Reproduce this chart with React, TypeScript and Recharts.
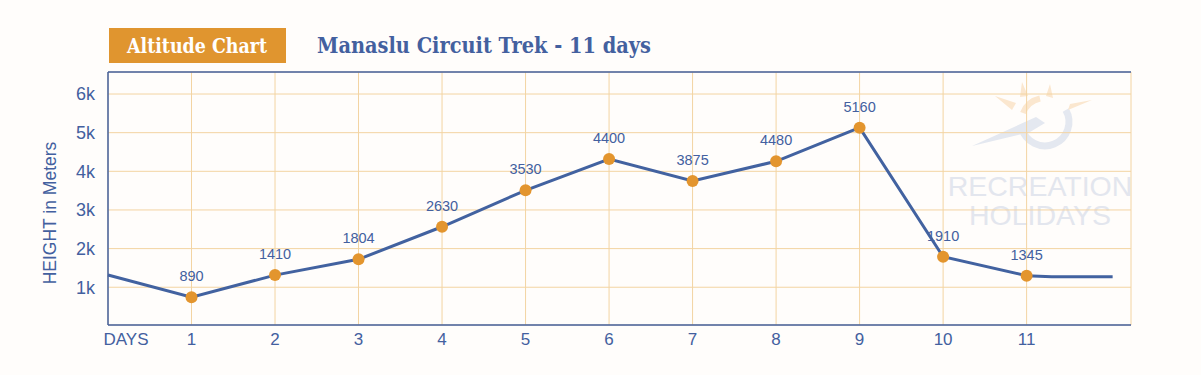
import {CartesianGrid, LabelList, Line, LineChart, ReferenceLine, XAxis, YAxis} from "recharts";

const W = 1201;
const H = 375;

// trek days and what the graphic shows for each
const days = [1, 2, 3, 4, 5, 6, 7, 8, 9, 10, 11];
const altitudeLabels = ["890", "1410", "1804", "2630", "3530", "4400", "3875", "4480", "5160", "1910", "1345"];
// heights as they sit on the picture's scale (metres)
const plottedHeights = [740, 1314, 1723, 2565, 3508, 4318, 3749, 4259, 5128, 1790, 1299];
// lead-in and tail of the line (no marker)
const leadIn = {day: 0, height: 1317};
const tail = [{day: 11.3, height: 1273}, {day: 12.03, height: 1273}];

const xTicks = [0, 1, 2, 3, 4, 5, 6, 7, 8, 9, 10, 11];
const xTickLabels = ["DAYS", "1", "2", "3", "4", "5", "6", "7", "8", "9", "10", "11"];
const yTicks = [1000, 2000, 3000, 4000, 5000, 6000];

const BLUE = "#43609f";
const LINE = "#4262a0";
const ORANGE = "#e3952e";
const GRID = "#f3d4a2";
const SANS = "'Liberation Sans', Arial, sans-serif";

const data = [
    {day: leadIn.day, height: leadIn.height, tag: "", marker: false},
    ...days.map((d, i) => ({day: d, height: plottedHeights[i], tag: altitudeLabels[i], marker: true})),
    ...tail.map(t => ({day: t.day, height: t.height, tag: "", marker: false})),
];

function Dot(props: any) {
    const {cx, cy, payload, index} = props;
    if (!payload || !payload.marker) return <g key={"d" + index}/>;
    return <circle key={"d" + index} cx={cx} cy={cy} r={6} fill={ORANGE} stroke="none"/>;
}

function PointLabel(props: any) {
    const {x, y, value} = props;
    if (!value) return null;
    return (
        <text x={x} y={y - 16} textAnchor="middle" fill={BLUE} style={{fontFamily: SANS, fontSize: 14.5}}>
            {value}
        </text>
    );
}

function DayTick(props: any) {
    const {x, payload} = props;
    const i = xTicks.indexOf(payload.value);
    const first = payload.value === 0;
    return (
        <text x={x + (first ? 18 : 0)} y={345} textAnchor="middle" fill={BLUE} style={{fontFamily: SANS, fontSize: 17}}>
            {xTickLabels[i]}
        </text>
    );
}

function Watermark() {
    const grey = "#e4e8f0";
    const sun = "#fbe7cf";
    return (
        <svg width={W} height={H} style={{position: "absolute", left: 0, top: 0}}>
            <path d="M 1065.8 110 A 24 24 0 1 1 1021.8 128.2" fill="none" stroke={grey} strokeWidth={7}/>
            <path d="M 1023 113 A 24 24 0 0 1 1040 98.5" fill="none" stroke={sun} strokeWidth={6}/>
            <path d="M 972 146 L 1036 117 L 1045 123 L 1030 132 Z" fill={grey}/>
            <path d="M 995 96 L 1016 103 L 1012 110 Z" fill={sun}/>
            <path d="M 1022 82 L 1028 96 L 1020 97 Z" fill={sun}/>
            <path d="M 1050 84 L 1053 98 L 1046 96 Z" fill={sun}/>
            <path d="M 1068 110 L 1092 100 L 1070 104 Z" fill={sun}/>
            <text x={1040} y={196} textAnchor="middle" fill="#e3e6ee" style={{fontFamily: SANS, fontSize: 28.5}}>RECREATION</text>
            <text x={1040} y={225} textAnchor="middle" fill="#e3e6ee" style={{fontFamily: SANS, fontSize: 28.5}}>HOLIDAYS</text>
        </svg>
    );
}

function Heading() {
    return (
        <svg width={W} height={H} style={{position: "absolute", left: 0, top: 0, pointerEvents: "none"}}>
            <rect x={109} y={28} width={177} height={35} fill="#e0952f"/>
            <text x={127} y={53} textLength={140} lengthAdjust="spacingAndGlyphs" fill="#ffffff"
                  style={{fontFamily: "'DejaVu Serif', serif", fontSize: 20, fontWeight: 700}}>Altitude Chart</text>
            <text x={317} y={53} textLength={334} lengthAdjust="spacingAndGlyphs" fill={BLUE}
                  style={{fontFamily: "'DejaVu Serif', serif", fontSize: 23, fontWeight: 700}}>Manaslu Circuit Trek - 11 days</text>
            <text x={50} y={213} textAnchor="middle" dominantBaseline="central" fill={BLUE}
                  transform="rotate(-90, 50, 213)" style={{fontFamily: SANS, fontSize: 17.5}}>HEIGHT in Meters</text>
        </svg>
    );
}

export default function App() {
    return (
        <div style={{position: "fixed", left: 0, top: 0, width: W, height: H, background: "#fffdfb", overflow: "hidden"}}>
            <Watermark/>
            <div style={{position: "absolute", left: 0, top: 0}}>
                <LineChart width={W} height={H} data={data} margin={{top: 72, right: 70, left: 0, bottom: 0}}>
                    <CartesianGrid stroke={GRID} strokeWidth={1}/>
                    <XAxis dataKey="day" type="number" domain={[0, 12.25]} ticks={xTicks} height={50}
                           tickLine={false} axisLine={{stroke: BLUE, strokeWidth: 1.5}} tick={<DayTick/>}
                           interval={0} allowDecimals/>
                    <YAxis type="number" domain={[23, 6570]} ticks={yTicks} width={108} tickLine={false}
                           tickMargin={7} axisLine={{stroke: BLUE, strokeWidth: 1.5}}
                           tickFormatter={(v: number) => `${v / 1000}k`}
                           tick={{fill: BLUE, fontSize: 18, fontFamily: SANS}}/>
                    <ReferenceLine y={6570} stroke={BLUE} strokeWidth={1.5}/>
                    <Line type="linear" dataKey="height" stroke={LINE} strokeWidth={3} dot={<Dot/>}
                          activeDot={false} isAnimationActive={false}>
                        <LabelList dataKey="tag" content={<PointLabel/>}/>
                    </Line>
                </LineChart>
            </div>
            <Heading/>
        </div>
    );
}
